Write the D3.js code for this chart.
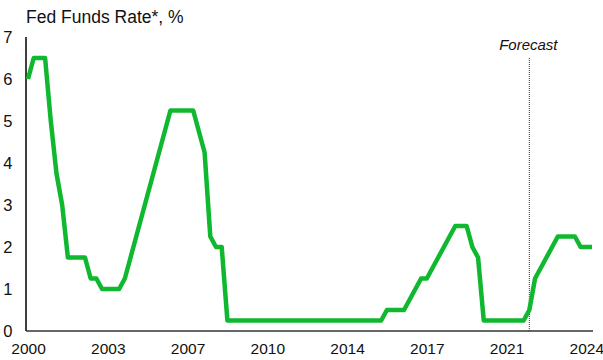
<!DOCTYPE html>
<html>
<head>
<meta charset="utf-8">
<script src="https://cdn.jsdelivr.net/npm/d3@7"></script>
<style>
body { margin: 0; background: #fff; }
text { font-family: "Liberation Sans", Arial, sans-serif; fill: #111; }
</style>
</head>
<body>
<div class="main"></div>
<script>
// quarterly fed funds rate, 2000Q1 - 2024Q4
var years = d3.range(2000, 2025);
var quarters = [];
years.forEach(function(y) { for (var q = 1; q <= 4; q++) quarters.push(y + "Q" + q); });

var rate = [
  6.0, 6.5, 6.5, 6.5,
  5.0, 3.75, 3.0, 1.75,
  1.75, 1.75, 1.75, 1.25,
  1.25, 1.0, 1.0, 1.0,
  1.0, 1.25, 1.75, 2.25,
  2.75, 3.25, 3.75, 4.25,
  4.75, 5.25, 5.25, 5.25,
  5.25, 5.25, 4.75, 4.25,
  2.25, 2.0, 2.0, 0.25,
  0.25, 0.25, 0.25, 0.25,
  0.25, 0.25, 0.25, 0.25,
  0.25, 0.25, 0.25, 0.25,
  0.25, 0.25, 0.25, 0.25,
  0.25, 0.25, 0.25, 0.25,
  0.25, 0.25, 0.25, 0.25,
  0.25, 0.25, 0.25, 0.5,
  0.5, 0.5, 0.5, 0.75,
  1.0, 1.25, 1.25, 1.5,
  1.75, 2.0, 2.25, 2.5,
  2.5, 2.5, 2.0, 1.75,
  0.25, 0.25, 0.25, 0.25,
  0.25, 0.25, 0.25, 0.25,
  0.5, 1.25, 1.5, 1.75,
  2.0, 2.25, 2.25, 2.25,
  2.25, 2.0, 2.0, 2.0
];
var yTicks = [0, 1, 2, 3, 4, 5, 6, 7];
var xTickEvery = 14;
var forecastStart = "2022Q1";

const width = 603, height = 360;

var svg = d3.select(".main").append("svg")
    .attr("width", width)
    .attr("height", height);

var x = d3.scalePoint()
    .domain(quarters)
    .range([28, 592]);

var y = d3.scaleLinear()
    .domain([0, 7])
    .range([331, 37]);

//title
svg.append("text")
    .attr("x", 26)
    .attr("y", 23)
    .text("Fed Funds Rate*, %")
    .style("font-size", "17.5px");

//y axis labels
svg.selectAll(".ylab")
    .data(yTicks)
    .enter()
    .append("text")
    .attr("class", "ylab")
    .attr("x", 12.5)
    .attr("y", function(d) { return y(d); })
    .attr("dy", "0.35em")
    .attr("text-anchor", "end")
    .text(function(d) { return d; })
    .style("font-size", "16.5px");

//x axis labels
var xTickVals = quarters.filter(function(d, i) { return i % xTickEvery == 0; });
svg.append("g")
    .attr("transform", "translate(0," + y(0) + ")")
    .call(d3.axisBottom(x)
        .tickValues(xTickVals)
        .tickSize(0)
        .tickPadding(12)
        .tickFormat(function(d) { return d.slice(0, 4); }))
    .call(function(g) { g.select(".domain").remove(); })
    .selectAll("text")
    .style("font-size", "15.5px")
    .style("font-family", "'Liberation Sans', Arial, sans-serif")
    .attr("fill", "#111");

//axis lines
svg.append("line")
    .attr("x1", x.range()[0] - 2).attr("x2", x.range()[0] - 2)
    .attr("y1", y(7)).attr("y2", y(0))
    .attr("stroke", "#000").attr("stroke-width", 1.5);

svg.append("line")
    .attr("x1", x.range()[0] - 2).attr("x2", x.range()[1] + 1)
    .attr("y1", y(0)).attr("y2", y(0))
    .attr("stroke", "#333").attr("stroke-width", 1.5);

//forecast divider
svg.append("line")
    .attr("x1", x(forecastStart)).attr("x2", x(forecastStart))
    .attr("y1", 58).attr("y2", y(0))
    .attr("stroke", "#333")
    .attr("stroke-width", 1)
    .attr("stroke-dasharray", "1,1");

svg.append("text")
    .attr("x", x(forecastStart) - 1)
    .attr("y", 50)
    .attr("text-anchor", "middle")
    .text("Forecast")
    .style("font-size", "15px")
    .style("font-style", "italic");

//rate line
var line = d3.line()
    .x(function(d, i) { return x(quarters[i]); })
    .y(function(d) { return y(d); });

svg.append("path")
    .datum(rate)
    .attr("d", line)
    .attr("fill", "none")
    .attr("stroke", "#10b830")
    .attr("stroke-width", 4.5)
    .attr("stroke-linejoin", "round");
</script>
</body>
</html>
